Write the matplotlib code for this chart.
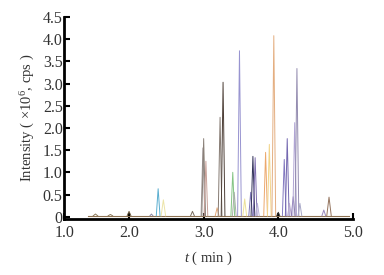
import matplotlib
matplotlib.use("Agg")
import matplotlib.pyplot as plt

# Peak retention times (min), heights (x10^6 cps), half-widths (min) and colours
peak_times   = [1.55, 1.75, 2.00, 2.30, 2.39, 2.46, 2.85, 2.99, 3.00, 3.03,
                3.18, 3.22, 3.26, 3.39, 3.41, 3.48, 3.55, 3.63, 3.66, 3.69,
                3.72, 3.83, 3.88, 3.94, 4.00, 4.08, 4.12, 4.15, 4.20, 4.22,
                4.25, 4.29, 4.61, 4.68]
peak_heights = [0.06, 0.05, 0.12, 0.06, 0.63, 0.38, 0.12, 1.55, 1.76, 1.25,
                0.20, 2.24, 3.03, 1.00, 0.55, 3.74, 0.40, 0.55, 1.36, 1.33,
                0.30, 1.45, 1.63, 4.08, 0.10, 1.29, 1.76, 0.30, 0.45, 2.12,
                3.34, 0.30, 0.15, 0.44]
peak_widths  = [0.03, 0.03, 0.025, 0.02, 0.025, 0.03, 0.025, 0.025, 0.025, 0.025,
                0.025, 0.025, 0.025, 0.025, 0.025, 0.025, 0.025, 0.025, 0.025, 0.025,
                0.025, 0.025, 0.025, 0.025, 0.02, 0.025, 0.025, 0.025, 0.025, 0.025,
                0.025, 0.025, 0.025, 0.03]
peak_colors  = ["#8c7a5a", "#8c7a5a", "#6b5a3e", "#8a8aa8", "#5aaed0", "#ece4a8",
                "#7a6e60", "#a0989a", "#8a8078", "#c8a098", "#e4a878", "#857a72",
                "#4e4038", "#84c484", "#a8b0a8", "#9894d0", "#ece098", "#8078b8",
                "#34345a", "#8070b0", "#b8b0d8", "#eca86c", "#f2d488", "#e4ae80",
                "#303030", "#8278c0", "#7468b0", "#b8a8d0", "#8878b0", "#b0a4d4",
                "#948cb0", "#a8a8c8", "#9888c0", "#94745e"]

baseline_t = [1.45, 4.95]
baseline_y = [0.02, 0.02]

y_ticks = [0, 0.5, 1.0, 1.5, 2.0, 2.5, 3.0, 3.5, 4.0, 4.5]
y_ticklabels = ["0", "0.5", "1.0", "1.5", "2.0", "2.5", "3.0", "3.5", "4.0", "4.5"]
x_ticks = [1.13, 2.0, 3.0, 4.0, 5.0]
x_ticklabels = ["1.0", "2.0", "3.0", "4.0", "5.0"]

plt.rcParams["font.family"] = ["Liberation Serif", "DejaVu Serif"]
plt.rcParams["mathtext.fontset"] = "custom"
plt.rcParams["mathtext.rm"] = "Liberation Serif"
plt.rcParams["mathtext.it"] = "Liberation Serif:italic"

fig = plt.figure(figsize=(3.84, 2.75), dpi=100)
ax = fig.add_axes([0.167, 0.204, 0.752, 0.734])

ax.plot(baseline_t, baseline_y, color="#8c7050", lw=0.8)
for t, h, w, c in zip(peak_times, peak_heights, peak_widths, peak_colors):
    ax.plot([t - w, t, t + w], [0.02, h, 0.02], color=c, lw=0.7)

ax.set_xlim(1.13, 5.0)
ax.set_ylim(-0.05, 4.5)
ax.set_xticks(x_ticks)
ax.set_xticklabels(x_ticklabels)
ax.set_yticks(y_ticks)
ax.set_yticklabels(y_ticklabels)

for s in ["top", "right"]:
    ax.spines[s].set_visible(False)
for s in ["left", "bottom"]:
    ax.spines[s].set_linewidth(2.0)
ax.tick_params(direction="in", length=4, width=1.5, labelsize=11.5,
               colors="black", labelcolor="#333333")
ax.tick_params(axis="y", pad=1)
ax.tick_params(axis="x", pad=4.5)
for lab in ax.get_yticklabels():
    lab.set_verticalalignment("center_baseline")

ax.set_ylabel("Intensity ( ×10$^6$, cps )", fontsize=10.5, color="#333333", labelpad=4)
ax.set_xlabel("$t$ ( min )", fontsize=10.5, color="#333333", labelpad=6)

fig.savefig("out.png", dpi=100)
